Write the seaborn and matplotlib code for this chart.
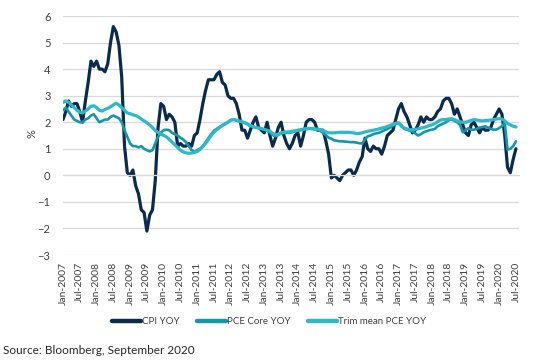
"""
Inflação EUA: CPI, PCE core e trimmed mean PCE (YoY)
"""
import matplotlib
import matplotlib.pyplot as plt
import numpy as np
import pandas as pd
import seaborn as sns

matplotlib.use("Agg")

# Meses de Jan-2007 a Jul-2020
months = pd.date_range("2007-01-01", "2020-07-01", freq="MS")

cpi_yoy = [
    2.1, 2.4, 2.8, 2.6, 2.7, 2.7, 2.4, 2.0, 2.8, 3.5, 4.3, 4.1,  # 2007
    4.3, 4.0, 4.0, 3.9, 4.2, 5.0, 5.6, 5.4, 4.9, 3.7, 1.1, 0.1,  # 2008
    0.0, 0.2, -0.4, -0.7, -1.3, -1.4, -2.1, -1.5, -1.3, -0.2, 1.8, 2.7,  # 2009
    2.6, 2.1, 2.3, 2.2, 2.0, 1.1, 1.2, 1.1, 1.1, 1.2, 1.1, 1.5,  # 2010
    1.6, 2.1, 2.7, 3.2, 3.6, 3.6, 3.6, 3.8, 3.9, 3.5, 3.4, 3.0,  # 2011
    2.9, 2.9, 2.7, 2.3, 1.7, 1.7, 1.4, 1.7, 2.0, 2.2, 1.8, 1.7,  # 2012
    1.6, 2.0, 1.5, 1.1, 1.4, 1.8, 2.0, 1.5, 1.2, 1.0, 1.2, 1.5,  # 2013
    1.6, 1.1, 1.5, 2.0, 2.1, 2.1, 2.0, 1.7, 1.7, 1.7, 1.3, 0.8,  # 2014
    -0.1, 0.0, -0.1, -0.2, 0.0, 0.1, 0.2, 0.2, 0.0, 0.2, 0.5, 0.7,  # 2015
    1.4, 1.0, 0.9, 1.1, 1.0, 1.0, 0.8, 1.1, 1.5, 1.6, 1.7, 2.1,  # 2016
    2.5, 2.7, 2.4, 2.2, 1.9, 1.6, 1.7, 1.9, 2.2, 2.0, 2.2, 2.1,  # 2017
    2.1, 2.2, 2.4, 2.5, 2.8, 2.9, 2.9, 2.7, 2.3, 2.5, 2.2, 1.9,  # 2018
    1.6, 1.5, 1.9, 2.0, 1.8, 1.6, 1.8, 1.7, 1.7, 1.8, 2.1, 2.3,  # 2019
    2.5, 2.3, 1.5, 0.3, 0.1, 0.6, 1.0,  # 2020
]

pce_core_yoy = [
    2.45, 2.55, 2.4, 2.25, 2.1, 2.05, 2.0, 2.0, 2.1, 2.15, 2.25, 2.3,  # 2007
    2.15, 2.0, 2.05, 2.1, 2.1, 2.2, 2.25, 2.2, 2.15, 2.0, 1.7, 1.45,  # 2008
    1.2, 1.1, 1.1, 1.05, 1.1, 1.0, 0.95, 0.9, 0.95, 1.2, 1.45, 1.6,  # 2009
    1.7, 1.72, 1.7, 1.6, 1.55, 1.5, 1.42, 1.35, 1.25, 1.1, 0.95, 0.88,  # 2010
    0.95, 1.0, 1.1, 1.25, 1.4, 1.55, 1.68, 1.75, 1.82, 1.88, 1.95, 2.0,  # 2011
    2.08, 2.1, 2.06, 2.04, 2.0, 1.98, 1.92, 1.85, 1.82, 1.8, 1.78, 1.75,  # 2012
    1.72, 1.68, 1.62, 1.52, 1.47, 1.52, 1.58, 1.6, 1.6, 1.6, 1.62, 1.66,  # 2013
    1.68, 1.7, 1.72, 1.74, 1.75, 1.75, 1.73, 1.72, 1.68, 1.6, 1.52, 1.42,  # 2014
    1.38, 1.32, 1.3, 1.28, 1.28, 1.27, 1.26, 1.25, 1.25, 1.23, 1.21, 1.2,  # 2015
    1.35, 1.47, 1.5, 1.55, 1.58, 1.6, 1.65, 1.7, 1.75, 1.8, 1.87, 1.93,  # 2016
    1.98, 1.9, 1.75, 1.72, 1.68, 1.65, 1.58, 1.5, 1.55, 1.62, 1.66, 1.7,  # 2017
    1.72, 1.75, 1.85, 1.9, 1.95, 2.0, 2.08, 2.1, 2.05, 2.0, 1.9, 1.62,  # 2018
    1.7, 1.78, 1.72, 1.72, 1.75, 1.8, 1.82, 1.85, 1.8, 1.75, 1.72, 1.72,  # 2019
    1.78, 1.85, 1.98, 0.97, 1.0, 1.1, 1.28,  # 2020
]

trim_mean_pce_yoy = [
    2.75, 2.8, 2.75, 2.65, 2.55, 2.45, 2.38, 2.35, 2.42, 2.5, 2.6, 2.62,  # 2007
    2.55, 2.45, 2.42, 2.48, 2.52, 2.58, 2.65, 2.72, 2.65, 2.55, 2.45, 2.35,  # 2008
    2.32, 2.28, 2.25, 2.2, 2.12, 2.05, 1.98, 1.9, 1.8, 1.68, 1.62, 1.55,  # 2009
    1.5, 1.45, 1.35, 1.25, 1.15, 1.05, 0.95, 0.88, 0.85, 0.83, 0.84, 0.86,  # 2010
    0.9, 0.97, 1.08, 1.2, 1.35, 1.5, 1.62, 1.72, 1.8, 1.88, 1.93, 2.0,  # 2011
    2.08, 2.1, 2.08, 2.05, 2.02, 1.98, 1.93, 1.88, 1.84, 1.8, 1.78, 1.76,  # 2012
    1.73, 1.7, 1.66, 1.58, 1.52, 1.55, 1.6, 1.62, 1.63, 1.64, 1.66, 1.68,  # 2013
    1.7, 1.72, 1.74, 1.76, 1.77, 1.76, 1.75, 1.74, 1.72, 1.68, 1.64, 1.6,  # 2014
    1.6, 1.6, 1.61, 1.62, 1.62, 1.62, 1.62, 1.61, 1.6, 1.57, 1.58, 1.6,  # 2015
    1.63, 1.66, 1.68, 1.7, 1.72, 1.75, 1.78, 1.8, 1.84, 1.88, 1.92, 1.96,  # 2016
    1.98, 1.85, 1.78, 1.75, 1.72, 1.72, 1.73, 1.75, 1.78, 1.8, 1.83, 1.88,  # 2017
    1.9, 1.95, 2.02, 2.08, 2.1, 2.1, 2.12, 2.13, 2.1, 2.05, 2.02, 2.0,  # 2018
    2.0, 2.03, 2.07, 2.1, 2.08, 2.06, 2.05, 2.06, 2.07, 2.08, 2.1, 2.12,  # 2019
    2.13, 2.12, 2.05, 1.95, 1.9, 1.85, 1.82,  # 2020
]

series_names = ["CPI YOY", "PCE Core YOY", "Trim mean PCE YOY"]
series_colors = ["#0B2B4C", "#1397A9", "#2EB8C8"]
series_widths = [2.3, 1.9, 2.3]

y_ticks = list(range(-3, 7))
source_text = "Source: Bloomberg, September 2020"

# Montar dataframe
x = np.arange(len(months))
df = pd.DataFrame(
    {
        "mes": x,
        series_names[0]: cpi_yoy,
        series_names[1]: pce_core_yoy,
        series_names[2]: trim_mean_pce_yoy,
    }
)

sns.set_style("white")
plt.rcParams["font.family"] = ["Lato", "DejaVu Sans"]

text_color = "#404040"
grid_color = "#D9D9D9"

fig = plt.figure(figsize=(5.38, 3.6), dpi=100)
ax = fig.add_axes([63 / 538, 1 - 255 / 360, (519 - 63) / 538, (255 - 16) / 360])

# Linhas (trim mean por cima, como no original)
for name, color, lw in zip(series_names, series_colors, series_widths):
    sns.lineplot(
        data=df,
        x="mes",
        y=name,
        ax=ax,
        color=color,
        linewidth=lw,
        label=name,
        solid_capstyle="round",
        solid_joinstyle="round",
    )

ax.set_xlim(0, 163.1)
ax.set_ylim(-3, 6)
ax.set_yticks(y_ticks)
ax.yaxis.grid(True, color=grid_color, linewidth=0.9)
ax.set_axisbelow(True)
for side in ["left", "right", "top"]:
    ax.spines[side].set_visible(False)

# Eixo x cruzando em zero com marcas
ax.spines["bottom"].set_position(("data", 0))
ax.spines["bottom"].set_color(grid_color)
ax.spines["bottom"].set_linewidth(0.9)
tick_pos = x[::6]
tick_labels = months[::6].strftime("%b-%Y")
ax.set_xticks(tick_pos)
ax.tick_params(axis="x", direction="out", length=3.5, width=0.9,
               color=grid_color, labelbottom=False)
ax.tick_params(axis="y", length=0, pad=9, labelsize=8, labelcolor=text_color)
ax.set_xlabel("")
ax.set_ylabel("%", color=text_color, fontsize=8)
ax.yaxis.set_label_coords(-26 / 456, 0.51)

# Rótulos do eixo x embaixo do gráfico
sec = ax.secondary_xaxis("bottom")
sec.set_xticks(tick_pos)
sec.set_xticklabels(tick_labels, rotation=90)
sec.tick_params(length=0, pad=5, labelsize=7.5, labelcolor=text_color)
sec.spines["bottom"].set_visible(False)

# Legenda
handles, labels = ax.get_legend_handles_labels()
ax.get_legend().remove()
leg = fig.legend(
    handles,
    labels,
    loc="center",
    bbox_to_anchor=(0.5, 1 - 322 / 360),
    ncol=3,
    frameon=False,
    handlelength=3.0,
    handletextpad=0.1,
    columnspacing=1.75,
    fontsize=7,
)
for line in leg.get_lines():
    line.set_linewidth(3.2)
for t in leg.get_texts():
    t.set_color(text_color)

fig.text(3 / 538, 1 - 350 / 360, source_text, fontsize=8.5,
         color="#262626", va="center", ha="left")

fig.savefig("out.png", dpi=100)
